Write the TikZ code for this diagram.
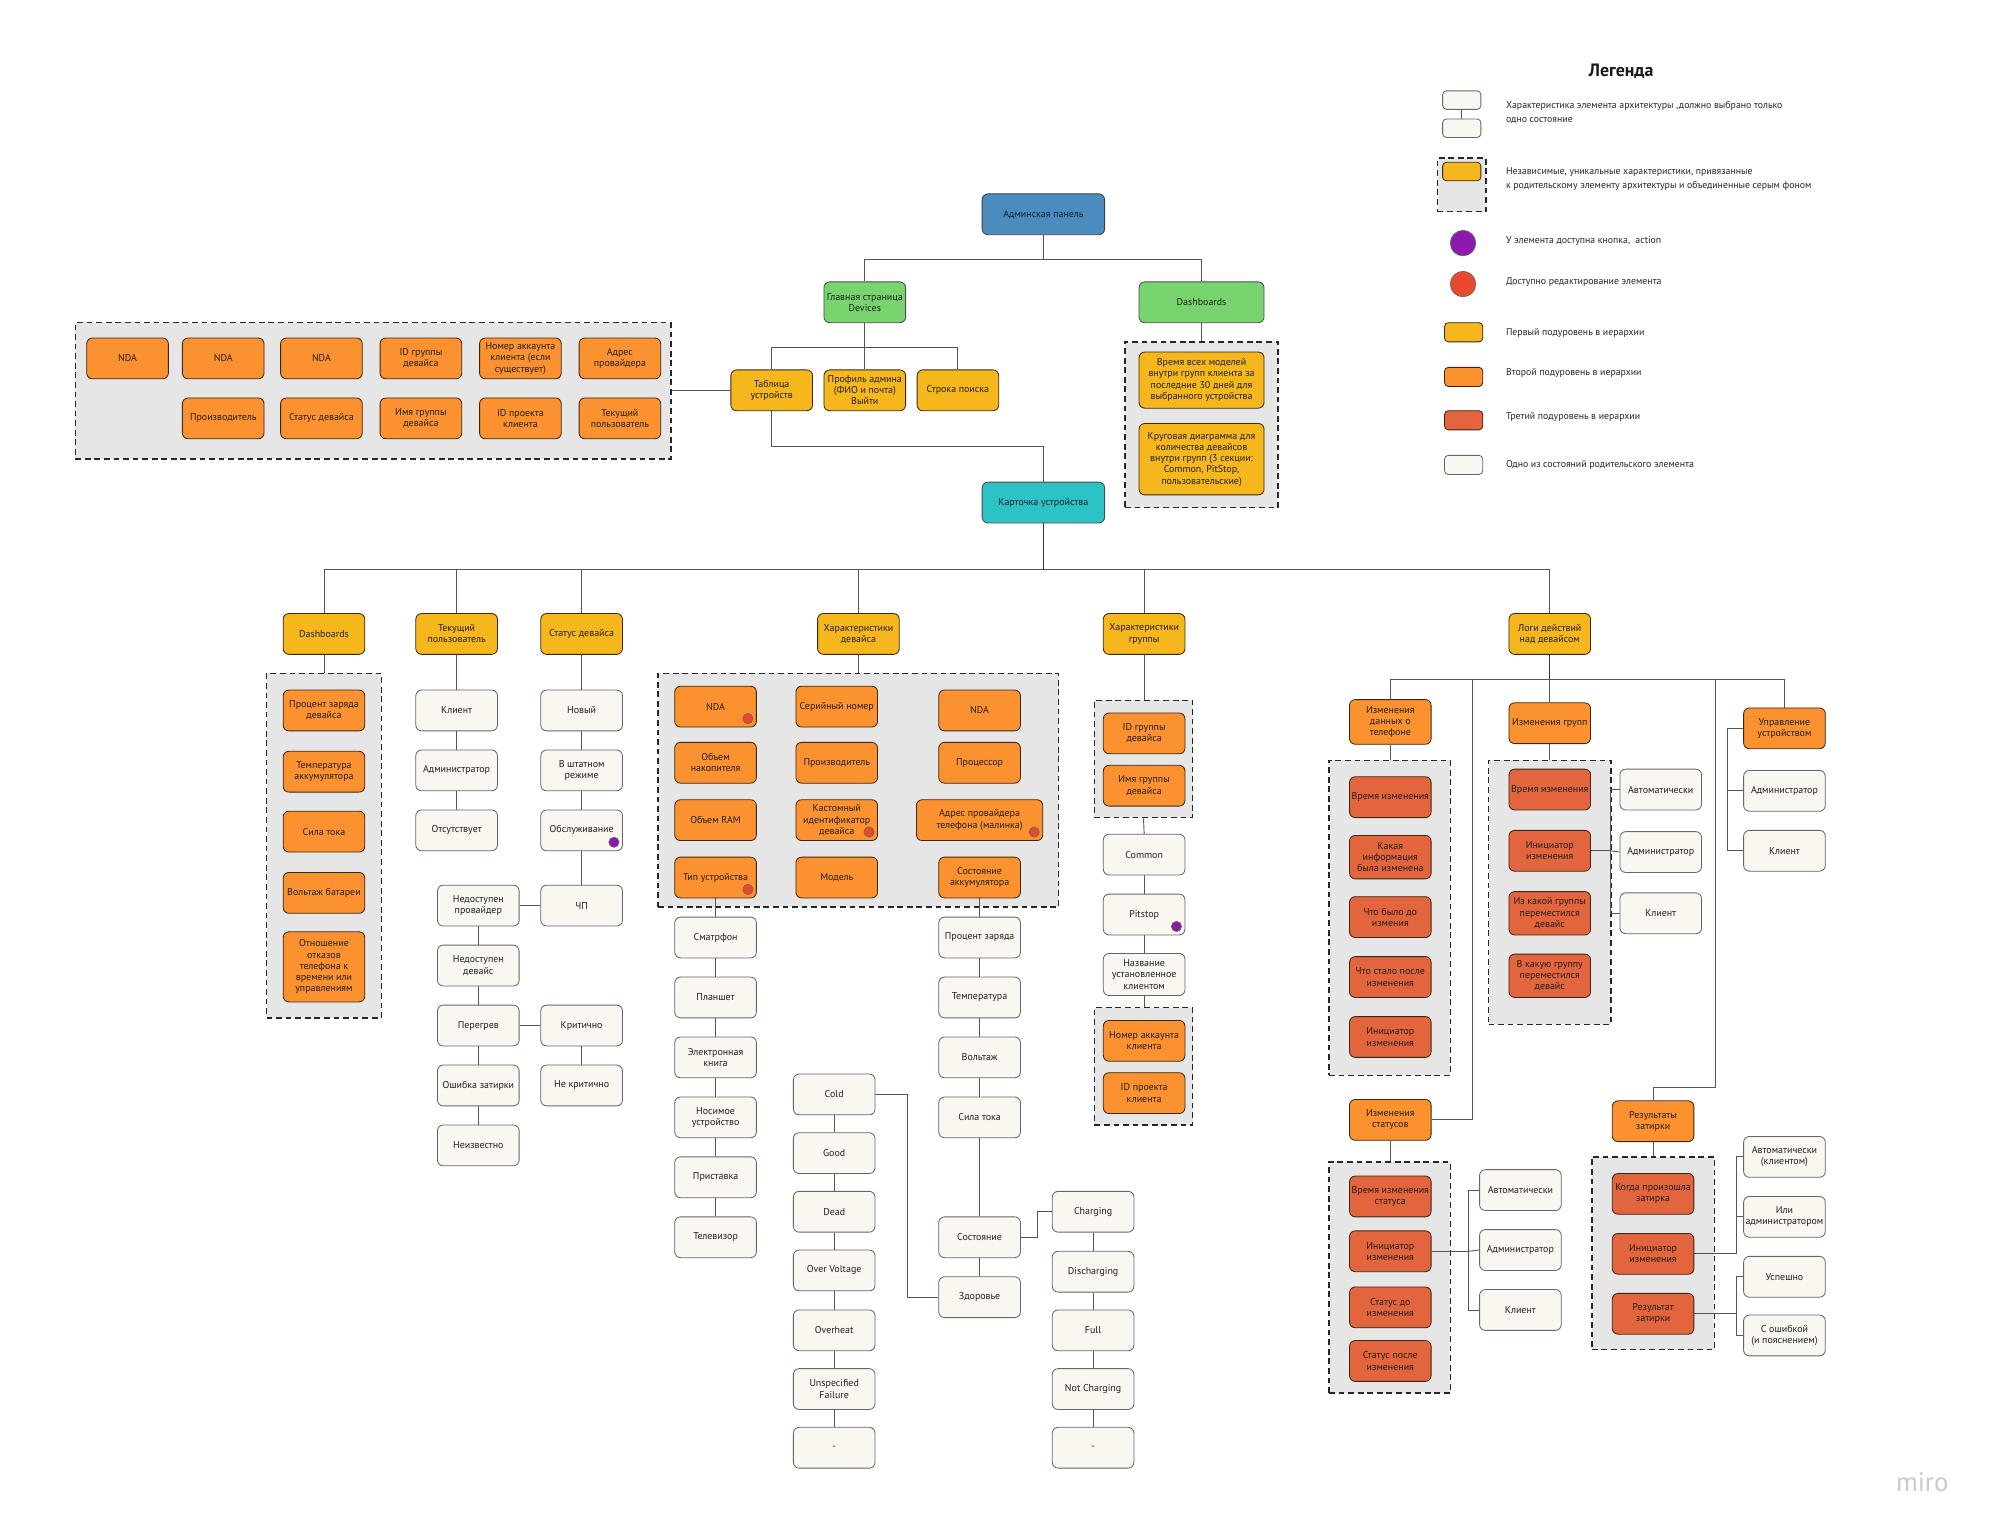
\documentclass[tikz,border=0pt]{standalone}
\usepackage{fontspec}
\setmainfont{PT Sans}
\pgfdeclarelayer{paper}
\pgfdeclarelayer{bg}
\pgfdeclarelayer{lines}
\pgfsetlayers{paper,bg,lines,main}
\definecolor{cblue}{HTML}{4A8CC0}
\definecolor{cgreen}{HTML}{77D46F}
\definecolor{cteal}{HTML}{2CC3C6}
\definecolor{cyel}{HTML}{F5B71C}
\definecolor{corg}{HTML}{FC922F}
\definecolor{cdk}{HTML}{E2653E}
\definecolor{ccream}{HTML}{FAF7F1}
\definecolor{cgray}{HTML}{E6E6E6}
\definecolor{cpurp}{HTML}{8E19AE}
\definecolor{cred}{HTML}{E8492E}
\definecolor{cline}{HTML}{555555}
\definecolor{cmiro}{HTML}{C9CAD0}
\newcommand\fsbox{\fontsize{7.8}{8.8}\selectfont}
\newcommand\fsleg{\fontsize{7.7}{10.5}\selectfont}
\begin{document}
\begin{tikzpicture}[x=1pt,y=-1pt,
  bx/.style={rounded corners=4.5pt, line width=0.65pt, align=center, font=\fsbox,
    inner sep=0.5pt, minimum width=64pt, minimum height=32pt, text=black!88},
  blu/.style={bx, fill=cblue, draw=black!75},
  grn/.style={bx, fill=cgreen, draw=black!70},
  tea/.style={bx, fill=cteal, draw=black!70},
  yel/.style={bx, fill=cyel, draw=black!70!brown},
  org/.style={bx, fill=corg, draw=black!70!brown},
  dko/.style={bx, fill=cdk, draw=black!70!brown},
  crm/.style={bx, fill=ccream, draw=black!60},
  gbox/.style={draw=black!85, fill=cgray, line width=1.1pt, dash pattern=on 4.5pt off 3pt, inner sep=0pt},
  ln/.style={draw=cline, line width=0.7pt},
  mdot/.style={circle, draw=black!60, line width=0.5pt, minimum size=8pt, inner sep=0pt},
  lt/.style={font=\fsleg, align=left, anchor=west, inner sep=0pt, text=black!85}
]
\useasboundingbox (0,0) rectangle (1568,1206.6);
\begin{pgfonlayer}{paper}
\fill[white] (0,0) rectangle (1568,1206.6);
\end{pgfonlayer}

% ---------- gray groups ----------
\begin{pgfonlayer}{bg}
\node[gbox, minimum width=467pt, minimum height=107pt] (g1) at (292.5,306.5) {};
\node[gbox, minimum width=120pt, minimum height=130pt] (g2) at (942,333) {};
\node[gbox, minimum width=90pt, minimum height=270pt] (g3) at (254,663) {};
\node[gbox, minimum width=314pt, minimum height=183pt] (g4) at (673,619.5) {};
\node[gbox, minimum width=77pt, minimum height=92pt] (g5) at (896.5,595) {};
\node[gbox, minimum width=77pt, minimum height=92pt] (g6) at (896.5,836) {};
\node[gbox, minimum width=95pt, minimum height=247pt] (g7) at (1089.5,719.5) {};
\node[gbox, minimum width=96pt, minimum height=207pt] (g8) at (1215,699.5) {};
\node[gbox, minimum width=95pt, minimum height=181pt] (g9) at (1089.5,1001.5) {};
\node[gbox, minimum width=96pt, minimum height=151pt] (g10) at (1296,982.5) {};
\node[gbox, minimum width=38pt, minimum height=42pt] (lg2) at (1146,145) {};
\end{pgfonlayer}

% ---------- top ----------
\node[blu, minimum width=96pt] (admin) at (818,168) {Админская панель};
\node[grn] (glav) at (678,237) {Главная страница\\Devices};
\node[grn, minimum width=98pt] (dashT) at (942,237) {Dashboards};
\node[yel] (tab) at (605,306) {Таблица\\устройств};
\node[yel] (prof) at (678,306) {Профиль админа\\(ФИО и почта)\\Выйти};
\node[yel] (srch) at (751,306) {Строка поиска};

\node[org] (t1) at (100,281) {NDA};
\node[org] (t2) at (175,281) {NDA};
\node[org] (t3) at (252,281) {NDA};
\node[org] (t4) at (330,281) {ID группы\\девайса};
\node[org] (t5) at (408,281) {Номер аккаунта\\клиента (если\\существует)};
\node[org] (t6) at (486,281) {Адрес\\провайдера};
\node[org] (t7) at (175,328) {Производитель};
\node[org] (t8) at (252,328) {Статус девайса};
\node[org] (t9) at (330,328) {Имя группы\\девайса};
\node[org] (t10) at (408,328) {ID проекта\\клиента};
\node[org] (t11) at (486,328) {Текущий\\пользователь};

\node[yel, minimum width=98pt, minimum height=44pt] (db1) at (942,298) {Время всех моделей\\внутри групп клиента за\\последние 30 дней для\\выбранного устройства};
\node[yel, minimum width=98pt, minimum height=56pt] (db2) at (942,360) {Круговая диаграмма для\\количества девайсов\\внутри групп (3 секции:\\Common, PitStop,\\пользовательские)};

\node[tea, minimum width=96pt] (kart) at (818,394) {Карточка устройства};

% ---------- level 1 ----------
\node[yel] (dsh) at (254,497) {Dashboards};
\node[yel] (tp) at (358,497) {Текущий\\пользователь};
\node[yel] (st) at (456,497) {Статус девайса};
\node[yel] (hd) at (673,497) {Характеристики\\девайса};
\node[yel] (hg) at (897,497) {Характеристики\\группы};
\node[yel] (lg) at (1215,497) {Логи действий\\над девайсом};

% Dashboards
\node[org] (d1) at (254,557) {Процент заряда\\девайса};
\node[org] (d2) at (254,605) {Температура\\аккумулятора};
\node[org] (d3) at (254,652) {Сила тока};
\node[org] (d4) at (254,700) {Вольтаж батареи};
\node[org, minimum height=55pt] (d5) at (254,758) {Отношение\\отказов\\телефона к\\времени или\\управлениям};

% Текущий пользователь
\node[crm] (u1) at (358,557) {Клиент};
\node[crm] (u2) at (358,604) {Администратор};
\node[crm] (u3) at (358,651) {Отсутствует};

% Статус девайса
\node[crm] (s1) at (456,557) {Новый};
\node[crm] (s2) at (456,604) {В штатном\\режиме};
\node[crm] (s3) at (456,651) {Обслуживание};
\node[crm] (s4) at (456,710) {ЧП};
\node[crm] (p1) at (375,710) {Недоступен\\провайдер};
\node[crm] (p2) at (375,757) {Недоступен\\девайс};
\node[crm] (p3) at (375,804) {Перегрев};
\node[crm] (p4) at (375,851) {Ошибка затирки};
\node[crm] (p5) at (375,898) {Неизвестно};
\node[crm] (k1) at (456,804) {Критично};
\node[crm] (k2) at (456,851) {Не критично};
\node[mdot, fill=cpurp] (s3d) at ([xshift=-7pt,yshift=7pt]s3.south east) {};

% Характеристики девайса
\node[org] (c11) at (561,554) {NDA};
\node[org] (c12) at (561,598) {Объем\\накопителя};
\node[org] (c13) at (561,643) {Объем RAM};
\node[org] (c14) at (561,688) {Тип устройства};
\node[org] (c21) at (656,554) {Серийный номер};
\node[org] (c22) at (656,598) {Производитель};
\node[org] (c23) at (656,643) {Кастомный\\идентификатор\\девайса};
\node[org] (c24) at (656,688) {Модель};
\node[org] (c31) at (768,557) {NDA};
\node[org] (c32) at (768,598) {Процессор};
\node[org, minimum width=99pt] (c33) at (768,643) {Адрес провайдера\\телефона (малинка)};
\node[org] (c34) at (768,688) {Состояние\\аккумулятора};
\node[mdot, fill=cred] at ([xshift=-7pt,yshift=7pt]c11.south east) {};
\node[mdot, fill=cred] at ([xshift=-7pt,yshift=7pt]c14.south east) {};
\node[mdot, fill=cred] at ([xshift=-7pt,yshift=7pt]c23.south east) {};
\node[mdot, fill=cred] at ([xshift=-7pt,yshift=7pt]c33.south east) {};

\node[crm] (m1) at (561,735) {Сматрфон};
\node[crm] (m2) at (561,782) {Планшет};
\node[crm] (m3) at (561,829) {Электронная\\книга};
\node[crm] (m4) at (561,876) {Носимое\\устройство};
\node[crm] (m5) at (561,923) {Приставка};
\node[crm] (m6) at (561,970) {Телевизор};

\node[crm] (b1) at (768,735) {Процент заряда};
\node[crm] (b2) at (768,782) {Температура};
\node[crm] (b3) at (768,829) {Вольтаж};
\node[crm] (b4) at (768,876) {Сила тока};
\node[crm] (b5) at (768,970) {Состояние};
\node[crm] (b6) at (768,1017) {Здоровье};

\node[crm] (h1) at (654,858) {Cold};
\node[crm] (h2) at (654,904) {Good};
\node[crm] (h3) at (654,950) {Dead};
\node[crm] (h4) at (654,996) {Over Voltage};
\node[crm] (h5) at (654,1043) {Overheat};
\node[crm] (h6) at (654,1089) {Unspecified\\Failure};
\node[crm] (h7) at (654,1135) {-};

\node[crm] (q1) at (857,950) {Charging};
\node[crm] (q2) at (857,997) {Discharging};
\node[crm] (q3) at (857,1043) {Full};
\node[crm] (q4) at (857,1089) {Not Charging};
\node[crm] (q5) at (857,1135) {-};

% Характеристики группы
\node[org] (r1) at (897,575) {ID группы\\девайса};
\node[org] (r2) at (897,616) {Имя группы\\девайса};
\node[crm] (r3) at (897,670) {Common};
\node[crm] (r4) at (897,717) {Pitstop};
\node[crm, minimum height=33pt] (r5) at (897,764) {Название\\установленное\\клиентом};
\node[org] (r6) at (897,816) {Номер аккаунта\\клиента};
\node[org] (r7) at (897,857) {ID проекта\\клиента};
\node[mdot, fill=cpurp] at ([xshift=-7pt,yshift=7pt]r4.south east) {};

% Логи
\node[org, minimum height=35pt] (izd) at (1090,566) {Изменения\\данных о\\телефоне};
\node[org] (izg) at (1215,567) {Изменения групп};
\node[org] (upr) at (1399,571) {Управление\\устройством};
\node[dko] (e1) at (1090,625) {Время изменения};
\node[dko, minimum height=34pt] (e2) at (1090,672) {Какая\\информация\\была изменена};
\node[dko] (e3) at (1090,719) {Что было до\\измения};
\node[dko] (e4) at (1090,766) {Что стало после\\изменения};
\node[dko] (e5) at (1090,813) {Инициатор\\изменения};

\node[dko] (f1) at (1215,619) {Время изменения};
\node[dko] (f2) at (1215,667) {Инициатор\\изменения};
\node[dko, minimum height=34pt] (f3) at (1215,716) {Из какой группы\\переместился\\девайс};
\node[dko, minimum height=34pt] (f4) at (1215,765) {В какую группу\\переместился\\девайс};
\node[crm] (w1) at (1302,619) {Автоматически};
\node[crm] (w2) at (1302,668) {Администратор};
\node[crm] (w3) at (1302,716) {Клиент};

\node[crm] (x1) at (1399,620) {Администратор};
\node[crm] (x2) at (1399,667) {Клиент};

\node[org] (izs) at (1090,878) {Изменения\\статусов};
\node[dko] (n1) at (1090,938) {Время изменения\\статуса};
\node[dko] (n2) at (1090,981) {Инициатор\\изменения};
\node[dko] (n3) at (1090,1025) {Статус до\\изменения};
\node[dko] (n4) at (1090,1067) {Статус после\\изменения};
\node[crm] (y1) at (1192,933) {Автоматически};
\node[crm] (y2) at (1192,980) {Администратор};
\node[crm] (y3) at (1192,1027) {Клиент};

\node[org] (rz) at (1296,879) {Результаты\\затирки};
\node[dko] (o1) at (1296,936) {Когда произошла\\затирка};
\node[dko] (o2) at (1296,983) {Инициатор\\изменения};
\node[dko] (o3) at (1296,1030) {Результат\\затирки};
\node[crm] (z1) at (1399,907) {Автоматически\\(клиентом)};
\node[crm] (z2) at (1399,954) {Или\\администратором};
\node[crm] (z3) at (1399,1001) {Успешно};
\node[crm] (z4) at (1399,1047) {С ошибкой\\(и пояснением)};

% ---------- legend ----------
\node[font=\bfseries\fontsize{14}{14}\selectfont, text=black!90] (legt) at (1271,55.5) {Легенда};
\node[crm, minimum width=30pt, minimum height=14.5pt, rounded corners=3pt] (lc1) at (1146,78.5) {};
\node[crm, minimum width=30pt, minimum height=14.5pt, rounded corners=3pt] (lc2) at (1146,100.5) {};
\node[lt] (lt1) at (1180.5,88.2) {Характеристика элемента архитектуры ,должно выбрано только\\одно состояние};
\node[yel, minimum width=30pt, minimum height=14.5pt, rounded corners=3pt] (ly) at (1146,134.5) {};
\node[lt] (lt2) at (1180.5,140.3) {Независимые, уникальные характеристики, привязанные\\к родительскому элементу архитектуры и объединенные серым фоном};
\node[mdot, fill=cpurp, minimum size=20pt] (lp) at (1147,190.6) {};
\node[lt] (lt3) at (1180.5,188.7) {У элемента доступна кнопка,\ \ action};
\node[mdot, fill=cred, minimum size=20pt] (lr) at (1147,222.7) {};
\node[lt] (lt4) at (1180.5,220.9) {Доступно редактирование элемента};
\node[yel, minimum width=30pt, minimum height=15pt, rounded corners=3pt] (l5) at (1147.5,260.5) {};
\node[lt] (lt5) at (1180.5,260.9) {Первый подуровень в иерархии};
\node[org, minimum width=30pt, minimum height=15pt, rounded corners=3pt] (l6) at (1147.5,295.5) {};
\node[lt] (lt6) at (1180.5,292.3) {Второй подуровень в иерархии};
\node[dko, minimum width=30pt, minimum height=15pt, rounded corners=3pt] (l7) at (1147.5,329.5) {};
\node[lt] (lt7) at (1180.5,326.8) {Третий подуровень в иерархии};
\node[crm, minimum width=30pt, minimum height=15pt, rounded corners=3pt] (l8) at (1147.5,364.5) {};
\node[lt] (lt8) at (1180.5,364.7) {Одно из состояний родительского элемента};

\node[font=\fontsize{21}{21}\selectfont, text=cmiro] (miro) at (1507,1162) {miro};

% ---------- connectors ----------
\begin{pgfonlayer}{lines}
\draw[ln] (lc1) -- (lc2);
\draw[ln] (admin.south) -- ++(0,19) coordinate (ha);
\draw[ln] (ha) -| (glav.north);
\draw[ln] (ha) -| (dashT.north);
\draw[ln] (glav.south) -- ++(0,19) coordinate (hb);
\draw[ln] (hb) -| (tab.north);
\draw[ln] (hb) -- (prof.north);
\draw[ln] (hb) -| (srch.north);
\draw[ln] (tab.west) -- (tab.west -| g1.east);
\draw[ln] (tab.south) -- ++(0,28) -| (kart.north);
\draw[ln] (dashT.south) -- (dashT.south |- g2.north);

\draw[ln, line width=0.9pt, draw=black!80] (kart.south) -- ++(0,36) coordinate (hk);
\foreach \n in {dsh,tp,st,hd,hg,lg} \draw[ln] (hk) -| (\n.north);

\draw[ln] (dsh.south) -- (dsh.south |- g3.north);
\draw[ln] (tp.south) -- (u1.north);
\draw[ln] (u1.south) -- (u2.north);
\draw[ln] (u2.south) -- (u3.north);
\draw[ln] (st.south) -- (s1.north);
\draw[ln] (s1.south) -- (s2.north);
\draw[ln] (s2.south) -- (s3.north);
\draw[ln] (s3.south) -- (s4.north);
\draw[ln] (s4.west) -- (p1.east);
\draw[ln] (p1.south) -- (p2.north);
\draw[ln] (p2.south) -- (p3.north);
\draw[ln] (p3.south) -- (p4.north);
\draw[ln] (p4.south) -- (p5.north);
\draw[ln] (p3.east) -- (k1.west);
\draw[ln] (k1.south) -- (k2.north);

\draw[ln] (hd.south) -- (hd.south |- g4.north);
\draw[ln] (c14.south) -- (m1.north);
\draw[ln] (m1.south) -- (m2.north);
\draw[ln] (m2.south) -- (m3.north);
\draw[ln] (m3.south) -- (m4.north);
\draw[ln] (m4.south) -- (m5.north);
\draw[ln] (m5.south) -- (m6.north);
\draw[ln] (c34.south) -- (b1.north);
\draw[ln] (b1.south) -- (b2.north);
\draw[ln] (b2.south) -- (b3.north);
\draw[ln] (b3.south) -- (b4.north);
\draw[ln] (b4.south) -- (b5.north);
\draw[ln] (b5.south) -- (b6.north);
\draw[ln] (b5.east) -- ++(13,0) |- (q1.west);
\draw[ln] (h1.east) -- ++(25,0) |- (b6.west);
\draw[ln] (h1.south) -- (h2.north);
\draw[ln] (h2.south) -- (h3.north);
\draw[ln] (h3.south) -- (h4.north);
\draw[ln] (h4.south) -- (h5.north);
\draw[ln] (h5.south) -- (h6.north);
\draw[ln] (h6.south) -- (h7.north);
\draw[ln] (q1.south) -- (q2.north);
\draw[ln] (q2.south) -- (q3.north);
\draw[ln] (q3.south) -- (q4.north);
\draw[ln] (q4.south) -- (q5.north);

\draw[ln] (hg.south) -- (hg.south |- g5.north);
\draw[ln] (g5.south) -- (r3.north);
\draw[ln] (r3.south) -- (r4.north);
\draw[ln] (r4.south) -- (r5.north);
\draw[ln] (r5.south) -- (r5.south |- g6.north);

\draw[ln, line width=0.9pt, draw=black!80] (lg.south) -- ++(0,19) coordinate (hl);
\draw[ln] (hl) -| (izd.north);
\draw[ln] (hl) -| (izg.north);
\draw[ln] (hl) -| (upr.north);
\draw[ln] (hl) -| ([xshift=32pt]izs.east) -- (izs.east);
\draw[ln] (hl) -| ([xshift=49pt,yshift=10pt]rz.north) -| (rz.north);

\draw[ln] (izd.south) -- (izd.south |- g7.north);
\draw[ln] (izg.south) -- (izg.south |- g8.north);
\draw[ln] (f2.east) -- ++(15,0) coordinate (vf);
\draw[ln] (vf) |- (w1.west);
\draw[ln] (vf) -- (w2.west);
\draw[ln] (vf) |- (w3.west);
\draw[ln] (upr.west) -- ++(-12,0) coordinate (vu);
\draw[ln] (vu) |- (x1.west);
\draw[ln] (vu) |- (x2.west);

\draw[ln] (izs.south) -- (izs.south |- g9.north);
\draw[ln] (n2.east) -- ++(29,0) coordinate (vn);
\draw[ln] (vn) |- (y1.west);
\draw[ln] (vn) -- (y2.west);
\draw[ln] (vn) |- (y3.west);

\draw[ln] (rz.south) -- (rz.south |- g10.north);
\draw[ln] (o2.east) -- ++(33,0) coordinate (vo);
\draw[ln] (vo) |- (z1.west);
\draw[ln] (vo) |- (z2.west);
\draw[ln] (o3.east) -- ++(33,0) coordinate (vr);
\draw[ln] (vr) |- (z3.west);
\draw[ln] (vr) |- (z4.west);
\end{pgfonlayer}
\end{tikzpicture}
\end{document}
